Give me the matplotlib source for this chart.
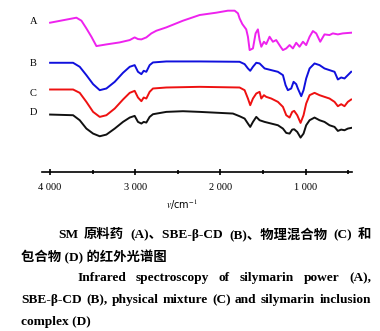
import matplotlib
matplotlib.use("Agg")
import matplotlib.pyplot as plt
from matplotlib.ticker import FixedLocator, FuncFormatter

# wavenumber (cm-1) and trace height (larger = lower on page)
wn_a = [4000, 3691, 3632, 3574, 3515, 3456, 3339, 3183, 3065, 3007, 2968, 2928, 2870, 2811,
        2752, 2635, 2440, 2244, 2048, 1912, 1833, 1794, 1775, 1743, 1697, 1677, 1657, 1618,
        1587, 1560, 1540, 1520, 1489, 1462, 1423, 1384, 1345, 1294, 1266, 1227, 1188, 1149,
        1110, 1071, 1031, 993, 953, 914, 875, 828, 778, 719, 680, 621, 563, 465]
tr_a = [68, 53, 62, 85, 110, 138, 133, 127, 120, 112, 117, 118, 112, 100,
        92, 82, 62, 45, 38, 32, 32, 40, 55, 72, 88, 110, 150, 145,
        100, 88, 120, 140, 125, 132, 110, 125, 120, 140, 150, 145, 135, 145,
        128, 140, 125, 135, 110, 93, 100, 125, 103, 105, 100, 103, 100, 98]

wn_b = [4000, 3730, 3652, 3574, 3495, 3417, 3339, 3241, 3144, 3065, 3007, 2968, 2928, 2901,
        2870, 2831, 2792, 2635, 2244, 1775, 1716, 1677, 1650, 1618, 1579, 1540, 1481, 1403,
        1325, 1266, 1235, 1208, 1169, 1141, 1110, 1091, 1051, 1024, 993, 953, 895, 836,
        778, 719, 660, 621, 582, 543, 504, 465]
tr_b = [188, 188, 200, 225, 252, 270, 265, 245, 218, 200, 195, 215, 222, 212,
        215, 195, 187, 184, 184, 185, 192, 205, 212, 200, 188, 190, 205, 210,
        215, 225, 255, 270, 265, 245, 252, 265, 288, 270, 235, 205, 190, 195,
        205, 210, 215, 238, 232, 235, 225, 215]

wn_c = [4000, 3730, 3652, 3574, 3495, 3417, 3339, 3241, 3144, 3065, 3007, 2968, 2928, 2901,
        2870, 2831, 2792, 2635, 2244, 1775, 1716, 1677, 1650, 1618, 1579, 1540, 1520, 1489,
        1462, 1403, 1325, 1266, 1227, 1188, 1157, 1134, 1098, 1059, 1024, 993, 953, 895,
        836, 778, 719, 660, 621, 582, 543, 504, 465]
tr_c = [268, 268, 278, 305, 335, 350, 345, 325, 298, 278, 272, 292, 303, 292,
        295, 275, 265, 262, 260, 262, 270, 295, 315, 295, 280, 275, 295, 285,
        290, 295, 305, 320, 345, 352, 335, 332, 345, 368, 345, 310, 285, 278,
        285, 290, 295, 305, 318, 312, 318, 305, 298]

wn_d = [4000, 3730, 3652, 3574, 3495, 3417, 3339, 3241, 3144, 3065, 3007, 2968, 2928, 2901,
        2870, 2831, 2792, 2635, 2440, 2244, 1853, 1775, 1716, 1677, 1650, 1618, 1579, 1540,
        1481, 1403, 1325, 1266, 1227, 1188, 1157, 1134, 1098, 1059, 1024, 993, 953, 895,
        836, 778, 719, 660, 621, 582, 543, 504, 465]
tr_d = [343, 345, 360, 385, 400, 408, 403, 385, 365, 352, 347, 365, 370, 365,
        367, 350, 342, 335, 333, 335, 340, 348, 355, 370, 380, 365, 350, 360,
        365, 370, 375, 385, 398, 400, 388, 387, 395, 412, 400, 375, 360, 352,
        360, 365, 375, 380, 392, 388, 390, 385, 383]

curves = [(wn_a, tr_a, "#ee22ee"), (wn_b, tr_b, "#1010dd"),
          (wn_c, tr_c, "#ee1111"), (wn_d, tr_d, "#111111")]
names = ["A", "B", "C", "D"]
name_y = [22, 63, 93, 112]
major = [4000, 3000, 2000, 1000]
minor = [3500, 2500, 1500, 500]

W, H = 380, 331
plt.rcParams["mathtext.fontset"] = "stix"
fig = plt.figure(figsize=(W / 100, H / 100), dpi=100)
ax = fig.add_axes([42 / W, 1 - 172 / H, 310 / W, 167 / H])
for wn, tr, col in curves:
    ax.plot(wn, tr, color=col, lw=1.4)
ax.set_xlim(4095, 455)
ax.set_ylim(515, 15)
for s in ["top", "left", "right"]:
    ax.spines[s].set_visible(False)
ax.spines["bottom"].set_linewidth(1.2)
ax.set_yticks([])
ax.xaxis.set_major_locator(FixedLocator(major))
ax.xaxis.set_minor_locator(FixedLocator(minor))
ax.xaxis.set_major_formatter(FuncFormatter(lambda v, p: f"{int(v):,}".replace(",", " ")))
ax.tick_params(axis="x", which="major", direction="inout", length=4, width=1.2, pad=6,
               labelsize=7.5)
ax.tick_params(axis="x", which="minor", direction="inout", length=2.5, width=1.2)
for lab in ax.get_xticklabels():
    lab.set_family("Liberation Serif")

for n, y in zip(names, name_y):
    fig.text(30 / W, 1 - y / H, n, family="Liberation Serif", fontsize=7.5, va="center")
fig.text(182 / W, 1 - 205 / H, r"$\mathit{v}$/cm$^{-1}$", fontsize=7, ha="center", va="center")

cap = dict(family=["Liberation Serif", "Noto Sans CJK SC"], fontsize=9.6, weight="bold",
           va="center")
renderer = fig.canvas.get_renderer()


def justify(words, x0, x1, y):
    texts = [fig.text(0, 1 - y / H, w, **cap) for w in words]
    widths = [t.get_window_extent(renderer).width for t in texts]
    gap = (x1 - x0 - sum(widths)) / (len(words) - 1)
    x = x0
    for t, wd in zip(texts, widths):
        t.set_x(x / W)
        x += wd + gap


justify(["SM", "原料药", "(A)、SBE-β-CD", "(B)、物理混合物", "(C)", "和"], 58, 371, 235)
fig.text(21 / W, 1 - 257 / H, "包合物 (D) 的红外光谱图", **cap)
justify(["Infrared", "spectroscopy", "of", "silymarin", "power", "(A),"], 77, 371, 278)
justify(["SBE-β-CD", "(B),", "physical", "mixture", "(C)", "and", "silymarin", "inclusion"],
        21, 371, 300)
fig.text(21 / W, 1 - 322 / H, "complex (D)", **cap)

fig.savefig("out.png", dpi=100)
